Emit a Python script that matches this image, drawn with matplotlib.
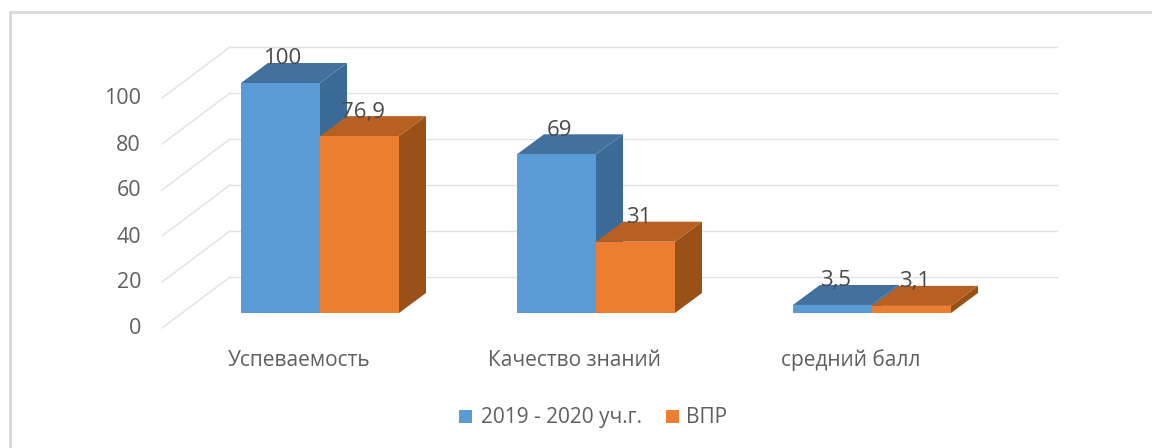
import matplotlib
matplotlib.use("Agg")
import matplotlib.pyplot as plt
from matplotlib.patches import Polygon, Rectangle

categories = ['Успеваемость', 'Качество знаний', 'средний балл']
series_names = ['2019 - 2020 уч.г.', 'ВПР']
values_2019 = [100, 69, 3.5]
values_vpr = [76.9, 31, 3.1]
value_labels_2019 = ['100', '69', '3,5']
value_labels_vpr = ['76,9', '31', '3,1']
y_ticks = [0, 20, 40, 60, 80, 100]

W, H = 1152, 448
# pixels per category step and per value unit
PX_CAT = 276.0
PX_VAL = 2.3
X0_PX, Y0_PX = 320.0, 313.0
BAR_W = 79 / PX_CAT
DEPTH_X, DEPTH_Y = 27 / PX_CAT, 20 / PX_VAL

GRID = '#E2E2E2'
TEXT = '#5F5F5F'
FONT = 'Open Sans'


def px_x(px):
	return (px - X0_PX) / PX_CAT


def px_y(px):
	return (Y0_PX - px) / PX_VAL


#draws one 3d looking bar, left is the left edge of the front face
def draw_bar(ax, left, value, front, top, side):
	right = left + BAR_W
	ax.add_patch(Polygon([(right, 0), (right + DEPTH_X, DEPTH_Y), (right + DEPTH_X, value + DEPTH_Y), (right, value)], fc=side, ec='none', zorder=3))
	ax.add_patch(Polygon([(left, value), (left + DEPTH_X, value + DEPTH_Y), (right + DEPTH_X, value + DEPTH_Y), (right, value)], fc=top, ec='none', zorder=3))
	ax.add_patch(Rectangle((left, 0), BAR_W, value, fc=front, ec='none', zorder=3))


def main():
	fig = plt.figure(figsize=(W / 100, H / 100), dpi=100)
	ax = fig.add_axes([0, 0, 1, 1])
	ax.set_xlim(px_x(0), px_x(W))
	ax.set_ylim(px_y(H), px_y(0))
	ax.axis('off')

	#outer frame, only the top and left edges show in the screenshot
	ax.plot([px_x(10), px_x(10)], [px_y(H), px_y(12)], color='#DADADA', lw=2, zorder=0)
	ax.plot([px_x(10), px_x(W)], [px_y(12), px_y(12)], color='#DADADA', lw=2, zorder=0)

	#gridlines: back wall and floor/side diagonal
	back_y0 = px_y(277)
	front_y0 = px_y(328)
	for v in y_ticks:
		ax.plot([px_x(162), px_x(230)], [front_y0 + v, back_y0 + v], color=GRID, lw=1, zorder=1)
		ax.plot([px_x(230), px_x(1057)], [back_y0 + v, back_y0 + v], color=GRID, lw=1, zorder=1)
		ax.text(px_x(141), px_y(329) + v, str(v), ha='right', va='center', fontsize=15.5, color=TEXT, family=FONT)

	for i in range(len(categories)):
		draw_bar(ax, i - BAR_W, values_2019[i], '#5B9BD5', '#41719C', '#3A6A96')
		draw_bar(ax, i, values_vpr[i], '#ED7D31', '#B85F22', '#9A5118')
		#labels sit above the top face
		ax.text(i - BAR_W / 2 + 3 / PX_CAT, values_2019[i] + 24 / PX_VAL, value_labels_2019[i], ha='center', va='center', fontsize=16, color='#4A4A4A', family=FONT, zorder=5)
		ax.text(i + BAR_W / 2 + 3 / PX_CAT, values_vpr[i] + 24 / PX_VAL, value_labels_vpr[i], ha='center', va='center', fontsize=16, color='#4A4A4A', family=FONT, zorder=5)
		ax.text(i - 21 / PX_CAT, px_y(360), categories[i], ha='center', va='center', fontsize=15, color=TEXT, family=FONT)

	#legend
	ax.add_patch(Rectangle((px_x(459), px_y(423)), 13 / PX_CAT, 13 / PX_VAL, fc='#5B9BD5', ec='none'))
	ax.text(px_x(481), px_y(417), series_names[0], ha='left', va='center', fontsize=15, color=TEXT, family=FONT)
	ax.add_patch(Rectangle((px_x(666), px_y(423)), 13 / PX_CAT, 13 / PX_VAL, fc='#ED7D31', ec='none'))
	ax.text(px_x(686), px_y(417), series_names[1], ha='left', va='center', fontsize=15, color=TEXT, family=FONT)

	fig.savefig('out.png', dpi=100)


if __name__ == "__main__":
	main()
